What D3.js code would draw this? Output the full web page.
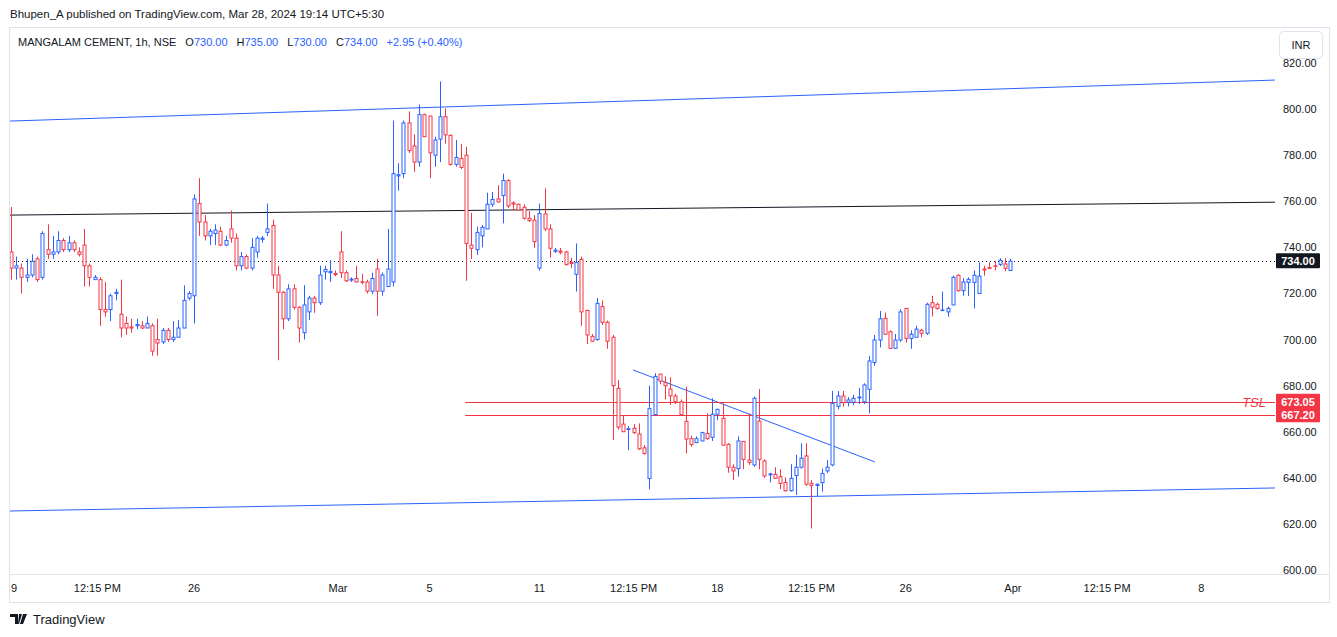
<!DOCTYPE html>
<html>
<head>
<meta charset="utf-8">
<script src="https://cdn.jsdelivr.net/npm/d3@7"></script>
<style>
  body { margin: 0; background: #fff; }
  svg { display: block; font-family: "Liberation Sans", Arial, sans-serif; }
</style>
</head>
<body>
<svg id="chart"></svg>
<script>
"use strict";

// hourly candles: [open, high, low, close]
var candles = [
  [738,757.5,726,731],[731,736,726,732],[731,733,720,727],[727,735,725,728],[728,737,727,734],
  [735,736,725,726],[727,747,726,746],[739,750,735,737],[737,745,735,738],[738,747,737,743],
  [743,744,738,739],[739,745,738,742],[742,743,738,739],[738,740,736,737],[741,748,723,732],
  [732,733,723,727],[726,728,726,727],[726,727,706,713],[713,725,710,712],[713,720,708,719],
  [720,722,717,720.5],[711,726,701,705],[707,710,702,705],[705.5,709,703,705],[706,709,704.5,706.5],
  [706,708,704.5,705],[705,710,705,707],[706,707,693,695],[700,709,693,698.5],[699,705,698,704],
  [704,705,699,700],[700,708,699,701],[701,708.5,701,705],[705,723.5,705,717],[718,721,717,720],
  [719,763,707,761],[759,770,745,751],[751,754,743,745],[745,748,741,747],[746,750,741,747.5],
  [747,749,740.5,741],[741,745,740.5,743],[748,756,742,744],[744,746,730,732],[732,738,730,736],
  [736,737,730.5,731],[731,744,730,740],[738,745,735.5,744],[743.5,745,742,744],[746.5,759,745,748],
  [749.5,752,722,728],[728,732,691,720.5],[720.5,721,704.5,709],[709,724,708,722],[722,724,713,714],
  [714,714.5,698.7,705],[703,723.6,700,715],[712,719,708.5,718],[718,719,711.6,716],[716,732,715,728],
  [729.4,732,726,730.4],[729,734.5,725,729.5],[728.6,730,727.5,728.2],[738,747,726.7,729],[729,730,725,725.5],
  [725.8,727,725,726.2],[726.5,732,724.8,725],[725,728.5,724,724.8],[725,726,720,721],[721,729,719.7,726.5],
  [730.6,735,710.3,721],[721,729,719,728],[723,748,723,730.6],[725,795,723,772],[771,776.5,764.6,771.5],
  [772,795,770,794],[794,799,781,782],[784,789,772.8,777],[777,802,775,797.6],[797.6,798,788,788],
  [797,797,770,781],[780,788,775,786.6],[787,812,777,796.7],[796.7,800.3,785,788.8],[788.6,789,775.5,776],
  [776,786.6,775,779],[778.6,784.8,774,774.7],[780,783.6,725.5,741.7],[741,755,735,739.6],[739,749,736.7,746.5],
  [745,749.7,740,748.7],[748,763.7,748,758.7],[758.7,764,757.5,760.8],[761,767,759.5,759.7],[762.5,772,750.4,769],
  [769,769.5,757,758],[759.3,760,756,758.8],[758.7,759,755.8,756.2],[757.4,758.7,752,752.6],[752.6,755.7,751,751.6],
  [751.8,754,739.8,742.5],[731,759,729.9,754.7],[754.5,765.6,747,748],[748,750,735.5,739.6],[738.3,739.7,737.5,738.8],
  [738.4,739.7,737,737.9],[738,738.5,732,732.6],[733.5,735.5,731,733],[728.3,741.7,720.8,733.4],[734.8,736,706,712],
  [712.6,713,698,702],[701.4,702.4,699,699.3],[700,718,699.5,715.7],[714.3,717,706.3,707.5],[707.5,708.2,696,699.3],
  [701,702,656.4,680],[678.8,682.4,661,662],[663.3,667.2,660,660],[661,662.5,652,661.3],[661.5,663.3,659,659.6],
  [659,663.6,652,652.6],[653,654.2,650,650.6],[639.7,680,635,670],[667.5,685.4,667,684],[685,685,680.6,682],
  [681.3,684,674,680],[678.5,683.6,671.6,675.6],[675.5,676.4,672,673],[673,674,667,667.4],[664.5,679.5,650.6,656.8],
  [657,658.3,653.5,654.5],[655.3,658,655,657],[656,660,656,659.6],[659.3,668,656.5,657],[657.6,674.5,656,667.6],
  [667.6,670,665,669.7],[665.8,672.3,654,654.2],[654.5,655,642.2,644.6],[644.6,645.9,639,643],[644,658,640.5,656],
  [655.8,656,643.8,648],[647.7,668,645.6,646.7],[645.6,675.2,644.8,674.5],[664.6,678.5,643.7,648],[647.3,648,640,640.8],
  [641.3,642.2,638,641.7],[641.5,644.6,639.5,639.8],[640.5,643.7,635.1,637.6],[638,640.2,634,634.4],[634.4,645.9,634,639.8],
  [641,650,632.5,644.6],[644.6,655,644,648.5],[649.5,655,636.5,637.2],[637.6,639,618,636.7],[636.7,637.6,632,637.2],
  [637.9,644,634,641.9],[643,647.7,642,644.6],[645.6,677.7,645,672.3],[671,677.7,669.8,675.5],[675.5,677.7,670.9,672.6],
  [672.8,675,671,673.8],[672.8,676,671.5,674.5],[674.7,679,672,675],[673,681,672,680.3],[678.4,692.8,668,690.7],
  [690,702,688.6,699.8],[699.8,712.4,696.6,709],[709.2,711.7,702,702.3],[703.4,704,695.9,696.2],[696.2,702.4,696,699.8],
  [699.8,713.2,699,712],[713.5,713.5,698.6,700.5],[700.5,704,696,702.3],[701,706,701,704.5],[704,704.6,701,702.7],
  [702.7,716,702,715.3],[716,719,710,714],[715.3,716,713,713.4],[712.6,720.8,712.5,712.8],[712,714.3,709.9,713.5],
  [715,727.7,714.9,727],[727.9,728.3,720.8,721.2],[721.2,726.6,719,725],[724.8,727,718.9,726.1],[724.8,730,713.5,727.9],
  [720,733.5,720,727.5],[730.6,732,727.7,730.2],[731.2,733.5,730.5,730.9],[732,734,730,731.8],[732.6,735.3,731.9,734.4],
  [732.8,735.3,729.6,730.9],[730,735,730,734]
];

var priceTicks = [600,620,640,660,680,700,720,740,760,780,800,820];
var timeTickIndex = [0,16.5,35,62.5,80,101,119,135,153,171,191.5,209.5,227.5];
var timeTickLabels = ["9","12:15 PM","26","Mar","5","11","12:15 PM","18","12:15 PM","26","Apr","12:15 PM","8"];

// drawn lines: [startIndex, startPrice, endIndex, endPrice]
var channelTop = [-0.2, 794.8, 241.6, 812.6];
var channelBottom = [-0.2, 625.6, 241.6, 635.6];
var midLine = [-0.2, 754.0, 241.6, 759.6];
var downTrend = [118.9, 686.8, 165.1, 646.9];
var tslLevels = [673.05, 667.20];
var tslStart = 86.8;
var lastPrice = 734.00;

var W = 1337, H = 637;
var plot = { left: 10, right: 1275, top: 28, bottom: 574 };
var upColor = "#2962ff", downColor = "#f23645", textColor = "#131722";

var svg = d3.select("#chart").attr("width", W).attr("height", H);

var x = d3.scaleLinear().domain([0, candles.length - 1]).range([11, 1010.3]);
var y = d3.scaleLinear().domain([600, 820]).range([570, 63]);

// frame
svg.append("rect").attr("x", 9.5).attr("y", 27.5).attr("width", 1320).attr("height", 575)
    .attr("fill", "none").attr("stroke", "#e0e3eb");
svg.append("line").attr("x1", 9).attr("x2", 1330).attr("y1", 574.5).attr("y2", 574.5)
    .attr("stroke", "#e0e3eb");

svg.append("text").attr("x", 10).attr("y", 18).attr("font-size", 11.5).attr("fill", textColor)
    .text("Bhupen_A published on TradingView.com, Mar 28, 2024 19:14 UTC+5:30");

// legend
var legend = svg.append("text").attr("x", 18).attr("y", 46).attr("font-size", 11).attr("fill", textColor);
legend.append("tspan").text("MANGALAM CEMENT, 1h, NSE");
[["O", "730.00"], ["H", "735.00"], ["L", "730.00"], ["C", "734.00"]].forEach(function (p) {
    legend.append("tspan").attr("dx", 9).text(p[0]);
    legend.append("tspan").attr("fill", upColor).text(p[1]);
});
legend.append("tspan").attr("dx", 9).attr("fill", upColor).text("+2.95 (+0.40%)");

svg.append("defs").append("clipPath").attr("id", "clip").append("rect")
    .attr("x", plot.left).attr("y", plot.top)
    .attr("width", plot.right - plot.left).attr("height", plot.bottom - plot.top);

var g = svg.append("g").attr("clip-path", "url(#clip)");

function drawLine(l, color) {
    g.append("line")
        .attr("x1", x(l[0])).attr("y1", y(l[1]))
        .attr("x2", x(l[2])).attr("y2", y(l[3]))
        .attr("stroke", color).attr("stroke-width", 1);
}
drawLine(channelTop, upColor);
drawLine(channelBottom, upColor);
drawLine(midLine, "#131722");
drawLine(downTrend, upColor);

tslLevels.forEach(function (v) {
    g.append("line").attr("x1", x(tslStart)).attr("x2", plot.right)
        .attr("y1", Math.round(y(v)) + 0.5).attr("y2", Math.round(y(v)) + 0.5)
        .attr("stroke", downColor);
});
g.append("text").attr("x", 1266).attr("y", y(tslLevels[0]) + 5).attr("text-anchor", "end")
    .attr("font-size", 13).attr("font-style", "italic").attr("fill", downColor).text("TSL");

g.append("line").attr("x1", plot.left).attr("x2", plot.right)
    .attr("y1", Math.round(y(lastPrice)) + 0.5).attr("y2", Math.round(y(lastPrice)) + 0.5)
    .attr("stroke", textColor).attr("stroke-dasharray", "1,3");

// candles
var c = g.selectAll(".candle").data(candles).enter().append("g");
c.append("line")
    .attr("x1", function (d, i) { return Math.round(x(i)) + 0.5; })
    .attr("x2", function (d, i) { return Math.round(x(i)) + 0.5; })
    .attr("y1", function (d) { return y(d[1]); })
    .attr("y2", function (d) { return y(d[2]); })
    .attr("stroke", function (d) { return d[3] >= d[0] ? upColor : downColor; });
c.append("rect")
    .attr("x", function (d, i) { return Math.round(x(i)) - 1; })
    .attr("width", 3)
    .attr("y", function (d) { return y(Math.max(d[0], d[3])); })
    .attr("height", function (d) { return Math.max(0.5, Math.abs(y(d[0]) - y(d[3]))); })
    .attr("fill", "#fff")
    .attr("stroke", function (d) { return d[3] >= d[0] ? upColor : downColor; });

// price axis
svg.append("g").selectAll("text").data(priceTicks).enter().append("text")
    .attr("x", 1283).attr("y", function (d) { return y(d) + 4; })
    .attr("font-size", 11).attr("fill", textColor)
    .text(function (d) { return d3.format(".2f")(d); });

svg.append("rect").attr("x", 1279.5).attr("y", 31.5).attr("width", 43).attr("height", 27).attr("rx", 4)
    .attr("fill", "#fff").attr("stroke", "#e0e3eb");
svg.append("text").attr("x", 1301).attr("y", 49).attr("text-anchor", "middle")
    .attr("font-size", 11).attr("fill", textColor).text("INR");

function priceLabel(v, fill) {
    svg.append("rect").attr("x", 1276).attr("y", y(v) - 8).attr("width", 44).attr("height", 15)
        .attr("rx", 1).attr("fill", fill);
    svg.append("text").attr("x", 1298).attr("y", y(v) + 4).attr("text-anchor", "middle")
        .attr("font-size", 11).attr("font-weight", "bold").attr("fill", "#fff")
        .text(d3.format(".2f")(v));
}
priceLabel(lastPrice, textColor);
priceLabel(tslLevels[0], downColor);
priceLabel(tslLevels[1], downColor);

// time axis
svg.append("g").selectAll("text").data(timeTickIndex).enter().append("text")
    .attr("x", function (d) { return x(d); }).attr("y", 592)
    .attr("text-anchor", function (d, i) { return i === 0 ? "start" : "middle"; })
    .attr("font-size", 11).attr("fill", textColor)
    .text(function (d, i) { return timeTickLabels[i]; });

// footer
svg.append("path").attr("d", "M10,614h8v10h-3v-7h-5z M19,614h3l-3,10h-1z M23,614h4l-4,10h-3z").attr("fill", textColor);
svg.append("text").attr("x", 33).attr("y", 624).attr("font-size", 13).attr("fill", textColor).text("TradingView");
</script>
</body>
</html>
